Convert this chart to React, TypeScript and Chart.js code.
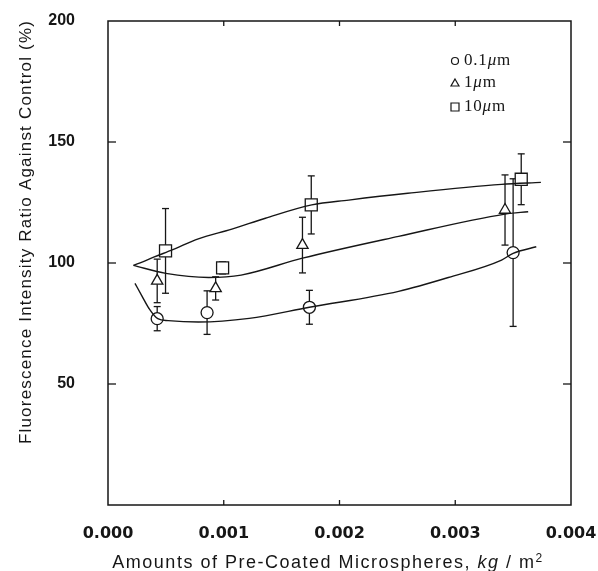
import React, { useEffect, useRef } from 'react';
import { Chart, registerables } from 'chart.js';

Chart.register(...registerables);

// ---- axis ticks ----
const xTickValues = [0, 0.001, 0.002, 0.003, 0.004];
const yTickValues = [50, 100, 150, 200];

// ---- measured points (mean ± error) ----
const circleX = [0.000425, 0.000856, 0.00174, 0.0035];
const circleY = [77, 79.5, 81.7, 104.3];
const circleErr = [5, 9, 7, 30.5];

const triangleX = [0.000425, 0.00093, 0.00168, 0.00343];
const triangleY = [92.6, 89.5, 107.4, 121.9];
const triangleErr = [9, 4.8, 11.5, 14.5];

const squareX = [0.000497, 0.00099, 0.001756, 0.00357];
const squareY = [105, 98, 124, 134.6];
const squareErr = [17.5, 2.5, 12, 10.5];

// ---- hand-drawn trend curves ----
const curve01X = [0.000233, 0.000296, 0.000353, 0.00043, 0.00052, 0.00078, 0.00122, 0.00174, 0.00251, 0.00294, 0.0034, 0.0035, 0.0037];
const curve01Y = [91.6, 86.1, 81.3, 77, 76.2, 75.6, 77.1, 81.7, 88.3, 94, 101.2, 104, 106.7];

const curve1X = [0.00022, 0.0005, 0.00087, 0.00115, 0.00168, 0.00251, 0.00343, 0.00363];
const curve1Y = [99, 95.7, 94, 95, 102, 111, 120.2, 121.2];

const curve10X = [0.00022, 0.0003, 0.0004, 0.00056, 0.00078, 0.00107, 0.00136, 0.00176, 0.00208, 0.00259, 0.0034, 0.00374];
const curve10Y = [99, 100.5, 102.5, 105.5, 110, 114, 118.5, 124, 126, 128.8, 132.5, 133.3];

const legendLabels = ['0.1', '1', '10'];

const pts = (xs: number[], ys: number[]) => xs.map((x, i) => ({ x, y: ys[i] }));

const INK = '#161616';

const figurePlugin = {
  id: 'figurePlugin',
  beforeDatasetsDraw(chart: any) {
    const ctx = chart.ctx as CanvasRenderingContext2D;
    const { left, right, top, bottom } = chart.chartArea;
    const xs = chart.scales.x;
    const ys = chart.scales.y;
    const line = (x1: number, y1: number, x2: number, y2: number) => {
      ctx.beginPath();
      ctx.moveTo(x1, y1);
      ctx.lineTo(x2, y2);
      ctx.stroke();
    };
    ctx.save();
    ctx.strokeStyle = INK;
    ctx.lineWidth = 1.5;
    ctx.strokeRect(left, top, right - left, bottom - top);
    ctx.lineWidth = 1.3;
    for (const v of xTickValues) {
      const px = xs.getPixelForValue(v);
      if (px <= left + 1 || px >= right - 1) continue;
      line(px, bottom, px, bottom - 5);
      line(px, top, px, top + 5);
    }
    for (const v of yTickValues) {
      const py = ys.getPixelForValue(v);
      if (py <= top + 1 || py >= bottom - 1) continue;
      line(left, py, left + 8, py);
      line(right, py, right - 8, py);
    }
    // error bars
    ctx.lineWidth = 1.3;
    chart.data.datasets.forEach((ds: any, i: number) => {
      if (!ds.errors) return;
      const meta = chart.getDatasetMeta(i);
      meta.data.forEach((el: any, j: number) => {
        const d = ds.data[j];
        const e = ds.errors[j];
        const y1 = ys.getPixelForValue(d.y + e);
        const y2 = ys.getPixelForValue(d.y - e);
        line(el.x, y1, el.x, y2);
        line(el.x - 3.5, y1, el.x + 3.5, y1);
        line(el.x - 3.5, y2, el.x + 3.5, y2);
      });
    });
    ctx.restore();
  },
  afterDraw(chart: any) {
    const ctx = chart.ctx as CanvasRenderingContext2D;
    const { right, top } = chart.chartArea;
    ctx.save();
    ctx.fillStyle = INK;
    ctx.strokeStyle = INK;

    // y title
    ctx.save();
    ctx.font = '17px "Liberation Sans", Arial, sans-serif';
    (ctx as any).letterSpacing = '1.2px';
    ctx.translate(31, 232);
    ctx.rotate(-Math.PI / 2);
    ctx.textAlign = 'center';
    ctx.textBaseline = 'alphabetic';
    ctx.fillText('Fluorescence Intensity Ratio Against Control (%)', 0, 0);
    ctx.restore();

    // x title with italic kg and superscript 2
    ctx.save();
    (ctx as any).letterSpacing = '1.5px';
    ctx.textBaseline = 'alphabetic';
    ctx.textAlign = 'left';
    const regular = '18px "Liberation Sans", Arial, sans-serif';
    const italic = 'italic 18px "Liberation Sans", Arial, sans-serif';
    const small = '12px "Liberation Sans", Arial, sans-serif';
    const parts: [string, string, number][] = [
      ['Amounts of Pre-Coated Microspheres, ', regular, 0],
      ['kg', italic, 0],
      [' / m', regular, 0],
      ['2', small, -6],
    ];
    let total = 0;
    for (const [t, f] of parts) { ctx.font = f; total += ctx.measureText(t).width; }
    let x = 328 - total / 2;
    const baseY = 568;
    for (const [t, f, dy] of parts) {
      ctx.font = f;
      ctx.fillText(t, x, baseY + dy);
      x += ctx.measureText(t).width;
    }
    ctx.restore();

    // legend
    ctx.save();
    const lx = right - 116;
    const rows = [top + 40, top + 62, top + 86];
    ctx.lineWidth = 1.2;
    ctx.fillStyle = '#fff';
    ctx.beginPath();
    ctx.arc(lx, rows[0], 3.5, 0, Math.PI * 2);
    ctx.fill(); ctx.stroke();
    ctx.beginPath();
    ctx.moveTo(lx, rows[1] - 4);
    ctx.lineTo(lx + 4, rows[1] + 3);
    ctx.lineTo(lx - 4, rows[1] + 3);
    ctx.closePath();
    ctx.fill(); ctx.stroke();
    ctx.beginPath();
    ctx.rect(lx - 4, rows[2] - 4, 8, 8);
    ctx.fill(); ctx.stroke();

    ctx.fillStyle = INK;
    ctx.textBaseline = 'middle';
    ctx.textAlign = 'left';
    (ctx as any).letterSpacing = '0.8px';
    const serif = '17px "Liberation Serif", "DejaVu Serif", serif';
    const serifIt = 'italic 17px "Liberation Serif", "DejaVu Serif", serif';
    legendLabels.forEach((lab, i) => {
      let tx = lx + 9;
      const ty = rows[i];
      ctx.font = serif;
      ctx.fillText(lab, tx, ty);
      tx += ctx.measureText(lab).width;
      ctx.font = serifIt;
      ctx.fillText('μ', tx, ty);
      tx += ctx.measureText('μ').width;
      ctx.font = serif;
      ctx.fillText('m', tx, ty);
    });
    ctx.restore();

    ctx.restore();
  },
};

export default function App() {
  const canvasRef = useRef<HTMLCanvasElement | null>(null);

  useEffect(() => {
    const canvas = canvasRef.current;
    if (!canvas) return;
    const curveStyle = {
      showLine: true,
      pointRadius: 0,
      pointHoverRadius: 0,
      borderColor: INK,
      borderWidth: 1.4,
      cubicInterpolationMode: 'monotone' as const,
      fill: false,
    };
    const markerStyle = {
      showLine: false,
      backgroundColor: '#ffffff',
      borderColor: INK,
      borderWidth: 1.3,
    };
    const chart = new Chart(canvas, {
      type: 'scatter',
      data: {
        datasets: [
          { label: 'curve 0.1', data: pts(curve01X, curve01Y), ...curveStyle },
          { label: 'curve 1', data: pts(curve1X, curve1Y), ...curveStyle },
          { label: 'curve 10', data: pts(curve10X, curve10Y), ...curveStyle },
          { label: '0.1μm', data: pts(circleX, circleY), errors: circleErr, pointStyle: 'circle', pointRadius: 6, ...markerStyle } as any,
          { label: '1μm', data: pts(triangleX, triangleY), errors: triangleErr, pointStyle: 'triangle', pointRadius: 6.5, ...markerStyle } as any,
          { label: '10μm', data: pts(squareX, squareY), errors: squareErr, pointStyle: 'rect', pointRadius: 8.5, ...markerStyle } as any,
        ],
      },
      options: {
        animation: false,
        responsive: false,
        events: [],
        layout: { padding: { left: 0, top: 21, right: 27, bottom: 0 } },
        plugins: {
          legend: { display: false },
          tooltip: { enabled: false },
          title: { display: false },
        },
        scales: {
          x: {
            type: 'linear',
            min: 0,
            max: 0.004,
            grid: { display: false },
            border: { display: false },
            afterBuildTicks: (s: any) => { s.ticks = xTickValues.map((v) => ({ value: v })); },
            afterFit: (s: any) => { s.height = 66; s.paddingLeft = 0; s.paddingRight = 0; },
            ticks: {
              color: INK,
              padding: 11,
              maxRotation: 0,
              font: { family: '"DejaVu Sans", sans-serif', size: 16, weight: 'bold' },
              callback: (v: any) => Number(v).toFixed(3),
            },
          },
          y: {
            type: 'linear',
            min: 0,
            max: 200,
            grid: { display: false },
            border: { display: false },
            afterBuildTicks: (s: any) => { s.ticks = yTickValues.map((v) => ({ value: v })); },
            afterFit: (s: any) => { s.width = 108; s.paddingTop = 0; s.paddingBottom = 0; },
            ticks: {
              color: INK,
              padding: 25,
              font: { family: '"Liberation Sans", Arial, sans-serif', size: 16, weight: 'bold' },
              callback: (v: any) => String(v),
            },
          },
        },
      },
      plugins: [figurePlugin],
    });
    return () => chart.destroy();
  }, []);

  return (
    <div style={{ position: 'fixed', left: 0, top: 0, width: 598, height: 571, background: '#fff' }}>
      <canvas ref={canvasRef} width={598} height={571} style={{ display: 'block', width: 598, height: 571 }} />
    </div>
  );
}
